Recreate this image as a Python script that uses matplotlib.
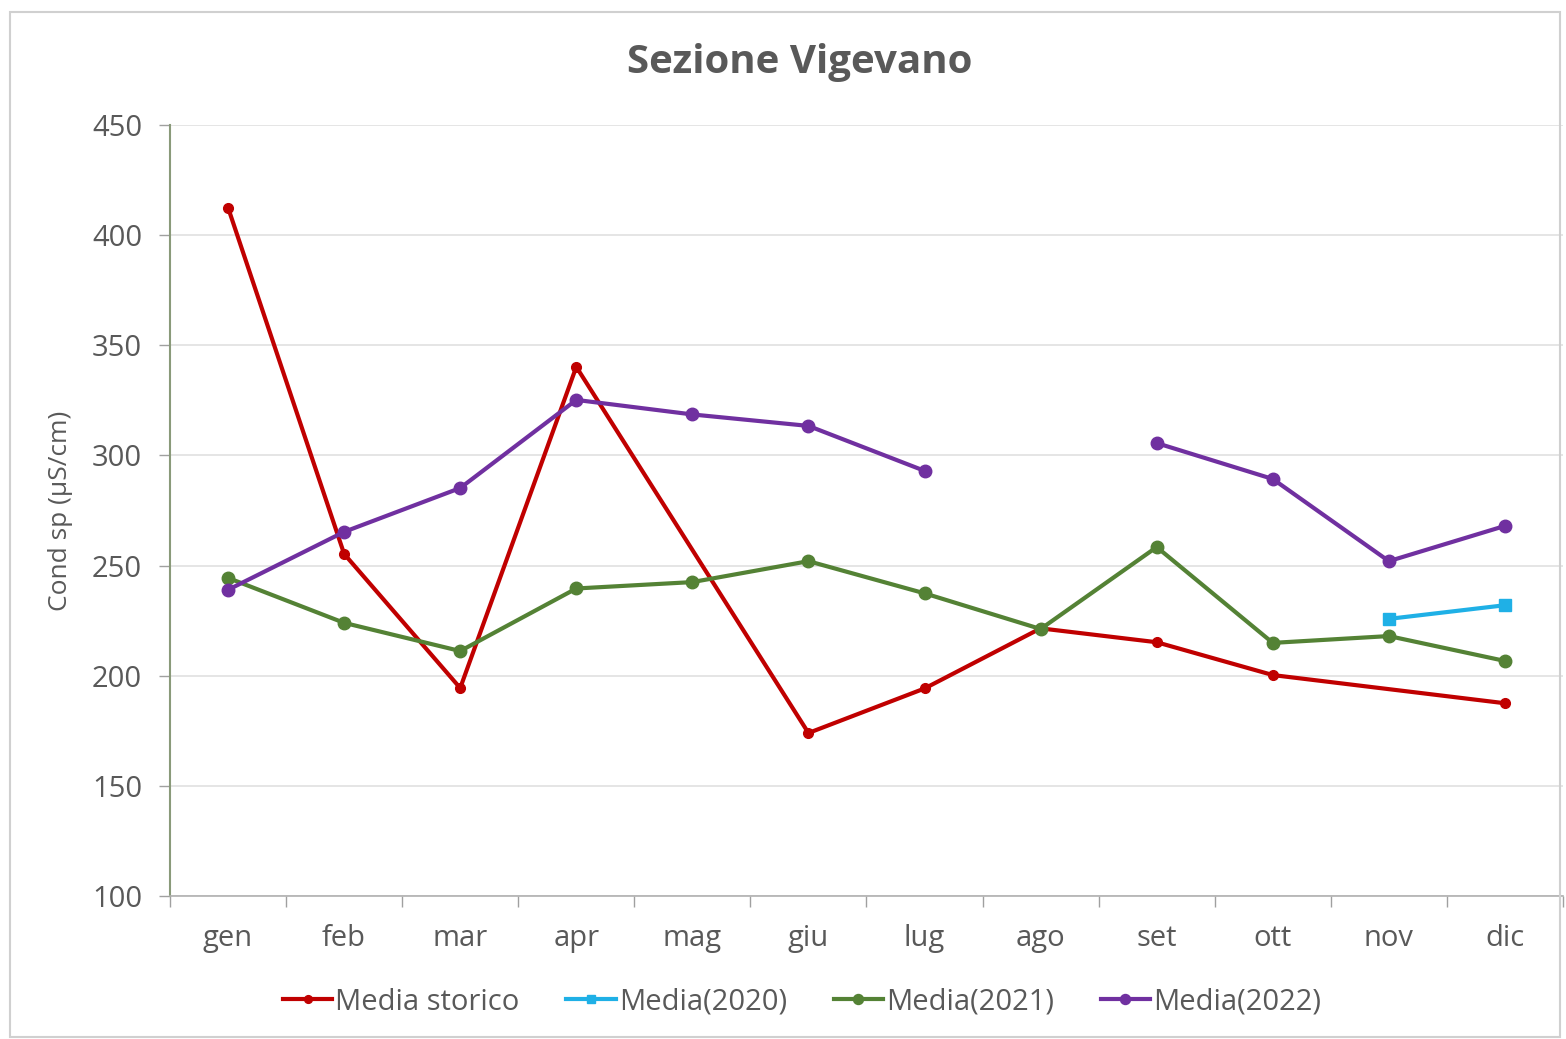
import matplotlib
matplotlib.use("Agg")
import matplotlib.pyplot as plt
import numpy as np
from matplotlib.patches import Rectangle

months = ["gen", "feb", "mar", "apr", "mag", "giu", "lug", "ago", "set", "ott", "nov", "dic"]
media_storico = [412.5, 255.3, 194.4, 340.2, np.nan, 174.0, 194.2, 221.5, 215.2, 200.3, np.nan, 187.5]
media_2020 = [np.nan]*10 + [225.8, 232.0]
media_2021 = [244.4, 224.0, 211.2, 239.6, 242.5, 252.0, 237.4, 221.2, 258.4, 214.9, 218.0, 206.7]
media_2022 = [239.0, 265.3, 285.2, 325.2, 318.6, 313.4, 293.0, np.nan, 305.6, 289.3, 252.0, 268.0]
yticks = [100, 150, 200, 250, 300, 350, 400, 450]

plt.rcParams['font.family'] = ['Open Sans', 'DejaVu Sans']

fig = plt.figure(figsize=(15.66, 10.39), dpi=100)
fig.patches.append(Rectangle((10/1566, 1-1037/1039), 1550/1566, 1025/1039, transform=fig.transFigure,
                             fill=False, edgecolor='#d0d0d0', linewidth=1.5))
ax = fig.add_axes([170/1566, 1-896/1039, (1563-170)/1566, (896-125)/1039])

x = np.arange(len(months))

def plot_connected(vals, color, marker, ms, label):
    v = np.array(vals, dtype=float)
    m = ~np.isnan(v)
    ax.plot(x[m], v[m], color=color, linewidth=3, marker=marker, markersize=ms, label=label, zorder=3)

def plot_gapped(vals, color, marker, ms, label):
    v = np.array(vals, dtype=float)
    ax.plot(x, v, color=color, linewidth=3, marker=marker, markersize=ms, label=label, zorder=3)

plot_connected(media_storico, '#c00000', 'o', 7, 'Media storico')
plot_gapped(media_2020, '#1fb0e6', 's', 8, 'Media(2020)')
plot_gapped(media_2021, '#548235', 'o', 9, 'Media(2021)')
plot_gapped(media_2022, '#7030a0', 'o', 9, 'Media(2022)')

ax.set_xlim(-0.5, 11.5)
ax.set_ylim(100, 450)
ax.set_yticks(yticks)
ax.set_xticks(x)
ax.set_xticklabels(months)
ax.set_xticks(np.arange(-0.5, 12.0, 1.0), minor=True)
ax.tick_params(axis='x', which='major', length=0, pad=20, labelsize=21, labelcolor='#595959')
ax.tick_params(axis='x', which='minor', length=8, color='#a0a0a0', width=1)
ax.tick_params(axis='y', length=8, color='#a0a0a0', width=1, labelsize=21, labelcolor='#595959', pad=12)
ax.grid(axis='y', color='#e0e0e0', linewidth=1.2)
ax.set_axisbelow(True)
for s in ['top', 'right']:
    ax.spines[s].set_visible(False)
ax.spines['left'].set_color('#8a9a7a')
ax.spines['left'].set_linewidth(1.5)
ax.spines['bottom'].set_color('#b0b0b0')
ax.spines['bottom'].set_linewidth(1.2)

ax.set_ylabel('Cond sp (µS/cm)', fontsize=19, color='#595959', labelpad=14)
fig.text(800/1566, 1-62/1039, 'Sezione Vigevano', ha='center', va='center', fontsize=29,
         fontweight='bold', color='#595959')

leg = fig.legend(loc='center', bbox_to_anchor=(802/1566, 1-1002/1039), ncol=4, frameon=False,
                 fontsize=21, handlelength=1.7, handletextpad=0.1, columnspacing=1.6, markerscale=0.8)
for t in leg.get_texts():
    t.set_color('#595959')

fig.savefig('out.png', dpi=100)
